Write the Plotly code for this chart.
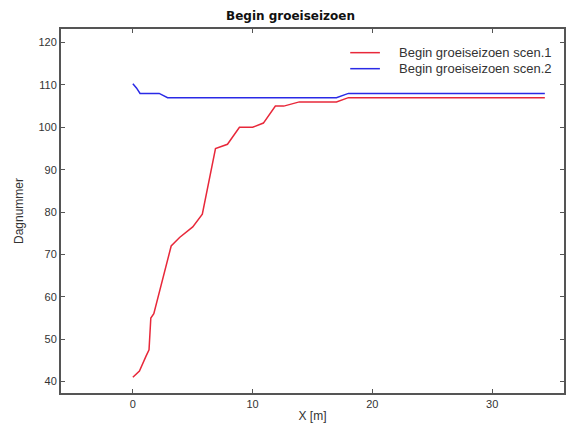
import plotly.graph_objects as go

# Scenario 1 (red)
x1 = [0.0, 0.55, 1.1, 1.35, 1.5, 1.75, 3.2, 3.9, 5.0, 5.8, 6.9, 7.9, 8.9, 10.0, 10.9, 11.9, 12.6, 13.9, 17.0, 18.0, 34.4]
y1 = [41, 42.5, 46, 47.5, 55, 56, 72, 74, 76.5, 79.5, 95, 96, 100, 100, 101, 105, 105, 106, 106, 107, 107]

# Scenario 2 (blue)
x2 = [0.0, 0.3, 0.6, 2.2, 2.9, 17.0, 18.0, 34.4]
y2 = [110.3, 109.3, 108, 108, 107, 107, 108, 108]

names = ["Begin groeiseizoen scen.1", "Begin groeiseizoen scen.2"]
colors = ["#e8283a", "#2a2ae6"]
title = "Begin groeiseizoen"
xlabel = "X [m]"
ylabel = "Dagnummer"
xticks = [0, 10, 20, 30]
yticks = [40, 50, 60, 70, 80, 90, 100, 110, 120]

font = "Liberation Sans, Arial, sans-serif"

fig = go.Figure()
fig.add_trace(go.Scatter(x=x1, y=y1, mode="lines", name=names[0],
                         line=dict(color=colors[0], width=1.5)))
fig.add_trace(go.Scatter(x=x2, y=y2, mode="lines", name=names[1],
                         line=dict(color=colors[1], width=1.5)))

axis_common = dict(showgrid=False, zeroline=False, showline=True, linecolor="#555555",
                   linewidth=2, mirror="allticks", ticks="inside", ticklen=4,
                   tickcolor="#555555", tickfont=dict(family=font, size=11, color="#333333"))

fig.update_layout(
    width=567, height=425,
    margin=dict(l=61, r=1, t=29, b=32),
    paper_bgcolor="white", plot_bgcolor="white",
    font=dict(family=font, size=11, color="#333333"),
    xaxis=dict(range=[-6, 36], tickvals=xticks,
               title=dict(text=xlabel, standoff=2, font=dict(family=font, size=12, color="#333333")),
               **axis_common),
    yaxis=dict(range=[37.3, 123.2], tickvals=yticks,
               title=dict(text=ylabel, standoff=12, font=dict(family=font, size=12, color="#333333")),
               **axis_common),
    showlegend=False,
)

# title
fig.add_annotation(text="<b>" + title + "</b>", xref="paper", yref="paper", x=0.457, y=1.0,
                   yshift=4, yanchor="bottom", xanchor="center", showarrow=False,
                   font=dict(family="DejaVu Sans, sans-serif", size=12, color="#111111"))

# legend (drawn manually to match compact spacing)
for i, (nm, col) in enumerate(zip(names, colors)):
    yy = 0.935 - i * 0.044
    fig.add_shape(type="line", xref="paper", yref="paper", x0=0.575, x1=0.634, y0=yy, y1=yy,
                  line=dict(color=col, width=1.5))
    fig.add_annotation(text=nm, xref="paper", yref="paper", x=0.668, y=yy, xanchor="left",
                       yanchor="middle", showarrow=False,
                       font=dict(family=font, size=13, color="#333333"))

fig.write_html("out.html")
